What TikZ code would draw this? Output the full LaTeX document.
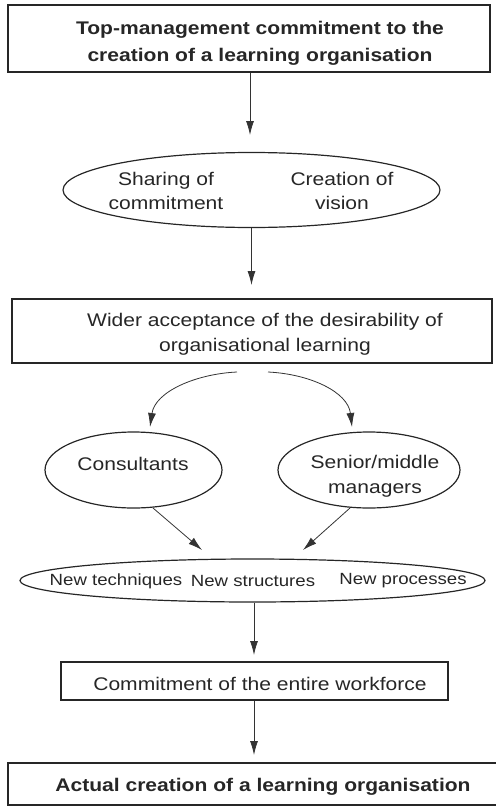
\documentclass[tikz,border=0pt]{standalone}
\usepackage{fontspec}
\setmainfont{Liberation Sans}[FakeStretch=1.15]
\usetikzlibrary{arrows.meta,shapes.geometric}
\begin{document}
\begin{tikzpicture}[x=1pt,y=-1pt,
  txt/.style={font=\fontsize{18.3}{25}\selectfont, align=center, inner sep=0pt, text=black!85},
  smalltxt/.style={txt, font=\fontsize{16.2}{22}\selectfont},
  boldtxt/.style={txt, font=\fontsize{18.3}{27}\selectfont\bfseries},
  stepbox/.style={draw=black!85, line width=1.4pt, rectangle, inner sep=0pt},
  oval/.style={draw=black!85, line width=1.2pt, ellipse, inner sep=0pt},
  flow/.style={draw=black!80, line width=0.8pt, -{Latex[length=14pt,width=8pt]}},
]
\useasboundingbox (0,0) rectangle (495,808);

% top box
\node[stepbox, minimum width=482pt, minimum height=67pt] (top) at (249,38.5) {};
\node[boldtxt] (toptxt) at (260,43) {Top-management commitment to the\\creation of a learning organisation};

% shared commitment and vision
\node[oval, minimum width=377pt, minimum height=75pt] (share) at (251.5,190) {};
\node[txt, font=\fontsize{18.3}{24}\selectfont] (sharing) at (166,191) {Sharing of\\commitment};
\node[txt, font=\fontsize{18.3}{24}\selectfont] (vision) at (342,191) {Creation of\\vision};

% wider acceptance
\node[stepbox, minimum width=480pt, minimum height=64pt] (wider) at (252,331) {};
\node[txt] (widertxt) at (265,334) {Wider acceptance of the desirability of\\organisational learning};

% consultants and managers
\node[oval, minimum width=177pt, minimum height=76pt] (cons) at (133.5,470) {};
\node[txt] (constxt) at (133,464) {Consultants};
\node[oval, minimum width=182pt, minimum height=76pt] (mgr) at (369,470) {};
\node[txt] (mgrtxt) at (375,476) {Senior/middle\\managers};

% new techniques, structures, processes
\node[oval, minimum width=465pt, minimum height=43pt] (newx) at (252.5,580.5) {};
\node[smalltxt] (tech) at (116,581) {New techniques};
\node[smalltxt] (struct) at (253,581) {New structures};
\node[smalltxt] (proc) at (403,581) {New processes};

% workforce
\node[stepbox, minimum width=387pt, minimum height=38pt] (work) at (254.5,681) {};
\node[txt] (worktxt) at (260,684) {Commitment of the entire workforce};

% final outcome
\node[stepbox, line width=2.4pt, minimum width=490pt, minimum height=42pt] (final) at (253,784) {};
\node[boldtxt] (finaltxt) at (263,787) {Actual creation of a learning organisation};

% vertical connectors
\draw[flow] (top.south -| 250,0) -- (250,135);
\draw[flow] (share.south) -- (251.5,285);
\draw[flow] (newx.south -| 254,0) -- (254,655);
\draw[flow] (work.south -| 254,0) -- (254,755);

% branching curves below the acceptance box
\coordinate (bl) at (237,372);
\coordinate (br) at (268,372);
\coordinate (bltip) at (150,427);
\coordinate (brtip) at (352,427);
\draw[flow] (bl) .. controls (195,374) and (155,392) .. (bltip);
\draw[flow] (br) .. controls (310,374) and (348,392) .. (brtip);

% converging connectors
\coordinate (cl) at (153,508);
\coordinate (cr) at (350,508);
\coordinate (cltip) at (202,550);
\coordinate (crtip) at (303,550);
\draw[flow] (cl) -- (cltip);
\draw[flow] (cr) -- (crtip);
\end{tikzpicture}
\end{document}
